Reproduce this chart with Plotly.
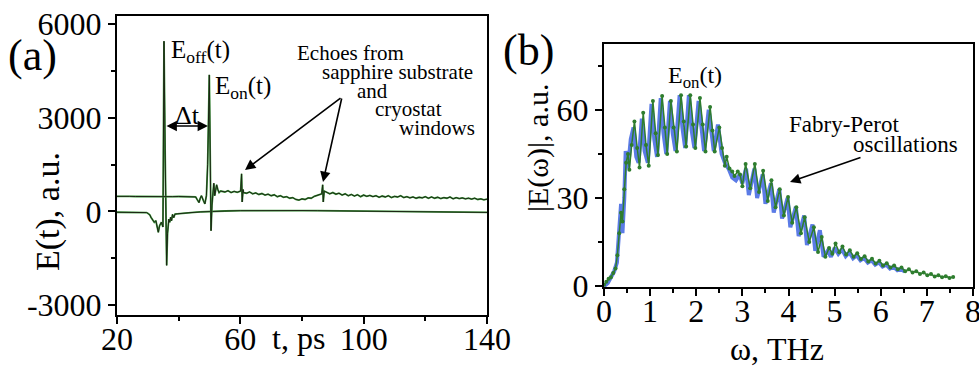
import plotly.graph_objects as go

W, H = 979, 368
FONT = "Liberation Serif, Times New Roman, serif"

# ---------------- Panel (a): time-domain traces ----------------
t_off = [20, 22, 24, 26, 28, 29.6, 30.2, 30.7, 31.0, 31.5, 32.1, 32.6, 33.0, 33.4, 33.8, 34.4,
         34.9, 35.24, 35.6, 36.1, 36.4, 36.8, 37.1, 37.4, 37.7, 38.0, 38.4, 38.8, 39.5, 41, 44,
         47, 50, 55, 60, 65, 70, 75, 80, 85, 90, 95, 100, 105, 110, 115, 120, 125, 130, 135, 140]
e_off = [-30, -30, -30, -35, -35, -40, -80, -120, -190, -280, -350, -300, -450, -670, -460, -350,
         -500, 5450, 2000, -1730, -700, -250, -350, -190, -300, -100, -200, -90, -80, -60, -40,
         -20, -5, 10, 20, 25, 30, 30, 25, 20, 15, 10, 5, 0, -5, -10, -15, -20, -25, -30, -35]

t_on = [20, 22, 24, 26, 28, 30, 32, 34, 36, 38, 40, 42, 44, 45.5, 46.0, 46.6, 47.0, 47.4, 48.0,
        48.5, 49.0, 49.4, 49.94, 50.2, 50.5, 50.8, 51.1, 51.4, 51.7, 52.0, 52.3, 52.7, 53.1, 53.6,
        54, 55, 56, 57, 58, 59, 60.1, 60.4, 60.6, 60.9, 61, 62, 63, 64, 65, 66, 67, 68, 69, 70,
        71, 72, 73, 74, 75, 76, 77, 78, 79, 80, 81, 82, 83, 84, 85, 86, 86.4, 86.7, 86.9, 87.2,
        88, 89, 90, 91, 92, 93, 94, 95, 96, 97, 98, 99, 100, 101, 102, 103, 104, 105, 106, 107,
        108, 109, 110, 111, 112, 113, 114, 115, 116, 117, 118, 119, 120, 121, 122, 123, 124, 125,
        126, 127, 128, 129, 130, 131, 132, 133, 134, 135, 136, 137, 138, 139, 140]
e_on = [480, 470, 480, 475, 470, 475, 470, 465, 470, 470, 475, 470, 480, 460, 380, 280, 420, 500,
        350, 240, 500, 1500, 4370, 1500, -620, 200, 700, 900, 500, 650, 850, 700, 600, 650,
        640, 620, 660, 600, 640, 610, 650, 1200, 300, 700, 600, 580, 620, 560, 590, 540, 570, 520,
        550, 500, 530, 470, 500, 450, 470, 420, 440, 380, 360, 400, 380, 430, 420, 480, 520, 560,
        560, 850, 300, 650, 600, 560, 600, 550, 580, 520, 560, 500, 540, 490, 530, 470, 520, 480,
        510, 470, 500, 450, 490, 460, 500, 440, 480, 460, 500, 440, 470, 430, 460, 420, 450, 430,
        470, 420, 460, 420, 450, 410, 440, 420, 460, 400, 440, 410, 430, 400, 420, 390, 420, 380,
        400, 370, 390]

a_yticks = [-3000, 0, 3000, 6000]
a_yticklabels = ["-3000", "0", "3000", "6000"]
a_xticks = [20, 60, 100, 140]

# ---------------- Panel (b): spectra ----------------
w_green = [0.00, 0.05, 0.10, 0.15, 0.20, 0.25, 0.29, 0.33, 0.37, 0.40, 0.44, 0.48, 0.52, 0.55,
           0.60, 0.66, 0.72, 0.77, 0.85, 0.91, 0.97, 1.06, 1.12, 1.17, 1.26, 1.32, 1.37, 1.45,
           1.51, 1.58, 1.67, 1.73, 1.78, 1.87, 1.93, 1.98, 2.08, 2.14, 2.20, 2.30, 2.35, 2.40,
           2.50, 2.56, 2.62, 2.66, 2.72, 2.78, 2.83, 2.90, 2.95, 3.00, 3.07, 3.17, 3.27, 3.36,
           3.45, 3.55, 3.63, 3.72, 3.81, 3.90, 3.99, 4.08, 4.17, 4.27, 4.35, 4.45, 4.55, 4.64,
           4.72, 4.80, 4.88, 4.95, 5.02, 5.10, 5.17, 5.25, 5.33, 5.41, 5.49, 5.57, 5.65, 5.73,
           5.81, 5.89, 5.97, 6.05, 6.13, 6.21, 6.29, 6.37, 6.45, 6.53, 6.61, 6.69, 6.77, 6.85,
           6.93, 7.01, 7.09, 7.17, 7.25, 7.33, 7.41, 7.49, 7.57]
a_green = [0.5, 1.5, 2.5, 3.0, 4.5, 6.0, 10.5, 18, 25, 22, 33, 42, 45, 39.6,
           48, 56, 47, 40.4, 59, 48, 41, 63, 52, 44.6, 64.7, 54, 45, 63,
           54, 45.8, 65, 56, 47.5, 65, 55, 47, 64, 55, 45.8, 61, 53, 45.8,
           54, 47, 41, 44, 40, 39, 37.5, 39, 38, 34, 41.6, 33.3, 41.6, 32,
           39.3, 29, 36, 26.8, 33, 24, 30.3, 21.6, 26.8, 18, 23.4, 15, 20, 11.6,
           16.7, 10, 13, 11, 14.5, 11.5, 13.5, 10.8, 12.2, 10, 11.2, 9.2, 10.2, 8.4,
           9.3, 7.7, 8.6, 7.0, 7.8, 6.3, 7.0, 5.7, 6.3, 5.1, 5.7, 4.6, 5.1, 4.1,
           4.6, 3.7, 4.1, 3.3, 3.7, 3.0, 3.4, 2.8, 3.1]

w_blue = [0.00, 0.08, 0.15, 0.22, 0.28, 0.33, 0.37, 0.40, 0.44, 0.47, 0.52, 0.58, 0.64, 0.70,
          0.75, 0.82, 0.88, 0.95, 1.03, 1.09, 1.15, 1.23, 1.29, 1.35, 1.43, 1.49, 1.55, 1.64,
          1.70, 1.76, 1.84, 1.90, 1.96, 2.05, 2.11, 2.17, 2.27, 2.33, 2.38, 2.47, 2.55, 2.62,
          2.70, 2.78, 2.86, 2.94, 3.00, 3.08, 3.14, 3.26, 3.32, 3.44, 3.50, 3.62, 3.68, 3.80,
          3.86, 3.98, 4.04, 4.16, 4.22, 4.34, 4.40, 4.52, 4.58, 4.68, 4.76, 4.85, 4.92, 5.00,
          5.08, 5.16, 5.24, 5.32, 5.40, 5.48, 5.56, 5.64, 5.72, 5.80, 5.88, 5.96, 6.04, 6.12,
          6.20, 6.28, 6.36, 6.44, 6.52]
a_blue = [0, 1, 3, 5, 8, 20, 28, 18, 30, 46, 40, 50, 54, 44,
          42, 57, 46, 42, 62, 50, 44, 64, 52, 45, 63, 52, 46, 65,
          54, 47, 65, 53, 47, 63, 53, 46, 60, 51, 46, 55, 45, 42,
          40, 37, 36, 38, 35, 40, 31, 40, 30, 38, 28, 35, 25, 33,
          23, 30, 20, 27, 17, 24, 14, 21, 12, 19, 10, 12, 10, 13,
          11, 12.5, 10.2, 11.5, 9.5, 10.5, 8.8, 9.6, 8, 8.8, 7.3, 8.1, 6.7, 7.3,
          6.0, 6.6, 5.4, 5.9, 4.9]

b_xticks = [0, 1, 2, 3, 4, 5, 6, 7, 8]
b_yticks = [0, 30, 60]

fig = go.Figure()

# panel (a): each trace drawn as green stroke with dark core
for tt, ee in ((t_off, e_off), (t_on, e_on)):
    fig.add_trace(go.Scatter(x=tt, y=ee, mode="lines", xaxis="x", yaxis="y",
                             line=dict(color="#3c9a3c", width=1.8), showlegend=False,
                             hoverinfo="skip"))
    fig.add_trace(go.Scatter(x=tt, y=ee, mode="lines", xaxis="x", yaxis="y",
                             line=dict(color="#1c2414", width=1.0), showlegend=False))

# panel (b)
fig.add_trace(go.Scatter(x=w_blue, y=a_blue, mode="lines", xaxis="x2", yaxis="y2",
                         line=dict(color="#5b7be6", width=4), showlegend=False))
fig.add_trace(go.Scatter(x=w_green, y=a_green, mode="lines+markers", xaxis="x2", yaxis="y2",
                         line=dict(color="#2e7d2e", width=1.5),
                         marker=dict(color="#2e7d2e", size=4), showlegend=False))


def px(x):
    return x / W


def py(y):
    return (H - y) / H


tickfont = dict(family=FONT, size=32, color="black")
common = dict(showline=True, linecolor="black", linewidth=2, mirror=True, ticks="outside",
              ticklen=7, tickwidth=1.5, tickcolor="black", showgrid=False, zeroline=False,
              tickfont=tickfont, automargin=False, ticklabeloverflow="allow")

fig.update_layout(
    template="none",
    width=W, height=H, margin=dict(l=0, r=0, t=0, b=0, pad=0),
    paper_bgcolor="white", plot_bgcolor="white",
    font=dict(family=FONT, color="black"),
    xaxis=dict(domain=[px(117), px(487)], range=[20, 140], tickvals=a_xticks,
               ticklabelstandoff=-12,
               minor=dict(tickvals=[40, 80, 120], ticks="outside", ticklen=4,
                          tickcolor="black"),
               anchor="y", **common),
    yaxis=dict(domain=[py(315), py(16)], range=[-3320, 6256],
               tickvals=a_yticks, ticktext=a_yticklabels,
               minor=dict(tickvals=[-1500, 1500, 4500], ticks="outside", ticklen=4,
                          tickcolor="black"),
               anchor="x", **common),
    xaxis2=dict(domain=[px(604), px(973)], range=[0, 8.0001], tickvals=b_xticks,
                ticklabelstandoff=-12,
                minor=dict(dtick=0.5, ticks="outside", ticklen=4, tickcolor="black"),
                anchor="y2", **common),
    yaxis2=dict(domain=[py(287), py(44)], range=[-0.3, 82.4], tickvals=b_yticks,
                minor=dict(tickvals=[15, 45, 75], ticks="outside", ticklen=4,
                           tickcolor="black"),
                anchor="x2", **common),
)

ann = []


def text(x, y, s, size, **kw):
    d = dict(x=px(x), y=py(y), xref="paper", yref="paper", text=s, showarrow=False,
             font=dict(family=FONT, size=size, color="black"), xanchor="center",
             yanchor="middle", borderpad=0)
    d.update(kw)
    ann.append(d)


def arrow(hx, hy, tx, ty, both=False):
    d = dict(x=px(hx), y=py(hy), xref="paper", yref="paper", ax=tx - hx, ay=ty - hy,
             text="", showarrow=True, arrowhead=2, arrowsize=1.3, arrowwidth=1.6,
             arrowcolor="black")
    if both:
        d.update(arrowside="end+start", startarrowhead=2, startarrowsize=1.3)
    ann.append(d)


text(32, 55, "(a)", 44)
text(528, 50, "(b)", 44)
text(48, 212, "E(t), a.u.", 34, textangle=-90)
text(298, 338, "t, ps", 32)
text(538, 148, "|E(ω)|, a.u.", 30, textangle=-90)
text(777, 349, "ω, THz", 32)

text(200, 51, "E<sub>off</sub>(t)", 25)
text(243, 87, "E<sub>on</sub>(t)", 25)
text(187, 115, "Δt", 26)
arrow(208, 126, 165, 126, both=True)

text(350, 53, "Echoes from", 21)
text(397, 72, "sapphire substrate", 21)
text(372, 91, "and", 21)
text(408, 109, "cryostat", 21)
text(437, 128, "windows", 21)
arrow(245, 170, 342, 97)
arrow(323, 182, 342, 97)

text(695, 77, "E<sub>on</sub>(t)", 24)
text(844, 124, "Fabry-Perot", 23)
text(905, 144, "oscillations", 23)
arrow(790, 182, 862, 157)

fig.update_layout(annotations=ann)
fig.write_html("out.html", config={"displayModeBar": False},
               post_script="document.body.style.margin='0';document.body.style.overflow='hidden';")
